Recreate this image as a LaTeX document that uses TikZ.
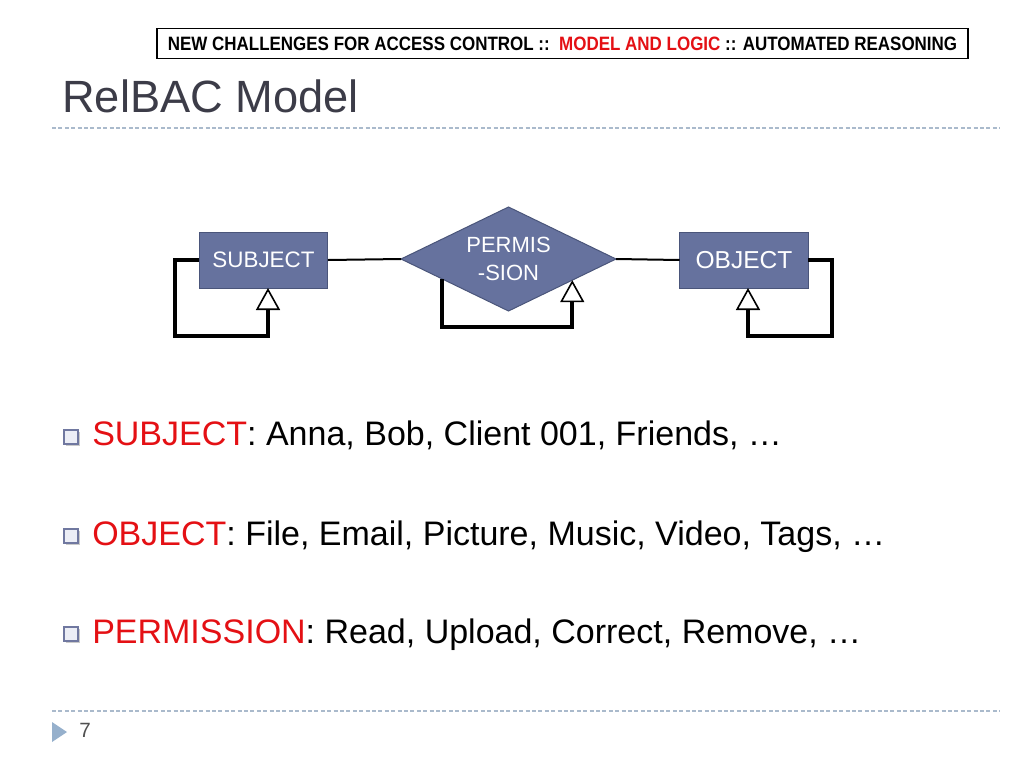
\documentclass[tikz,border=0pt]{standalone}
\usepackage{fontspec}
\setmainfont{Liberation Sans}
\usetikzlibrary{shapes.geometric,arrows.meta,calc,shadows}
\definecolor{boxfill}{RGB}{102,114,158}
\definecolor{boxdraw}{RGB}{74,85,122}
\definecolor{titlegray}{RGB}{60,60,72}
\definecolor{dashcol}{RGB}{170,186,204}
\definecolor{markcol}{RGB}{150,176,204}
\definecolor{hred}{RGB}{228,16,20}
\definecolor{bulletdraw}{RGB}{112,120,160}
\definecolor{bulletfill}{RGB}{236,238,246}
\definecolor{numgray}{RGB}{80,80,80}
\tikzset{
  entity/.style={draw=boxdraw, line width=0.75pt, fill=boxfill, text=white, rectangle,
    minimum width=96.5pt, minimum height=42pt, inner sep=0pt, outer sep=0pt},
  relation/.style={draw=boxdraw, line width=0.75pt, fill=boxfill, text=white, diamond,
    shape aspect=2.07, minimum width=161.25pt, minimum height=78pt, inner sep=0pt, outer sep=0pt,
    align=center, font=\fontsize{16.5}{21}\selectfont},
  conn/.style={line width=1.5pt, black},
  selfloop/.style={line width=3pt, black, line join=miter,
    -{Triangle[open, length=16.5pt, width=18pt, line width=1.2pt]}},
  bulletsq/.style={rectangle, draw=bulletdraw, line width=1.5pt, fill=bulletfill,
    minimum size=10.5pt, inner sep=0pt,
    drop shadow={shadow xshift=1.2pt, shadow yshift=-1.2pt, fill=gray!70, opacity=0.6}},
  itemtext/.style={anchor=base west, inner sep=0pt, font=\fontsize{25.5}{30}\selectfont},
  dashrule/.style={dashcol, line width=0.8pt, dash pattern=on 3pt off 1.8pt},
}
\begin{document}
\begin{tikzpicture}[x=0.75pt,y=-0.75pt]
\useasboundingbox (0,0) rectangle (1024,768);

% header
\node[draw=black, line width=0.8pt, minimum width=608.25pt, minimum height=23pt, inner sep=0pt]
  (hdr) at (562.5,43.5)
  {\resizebox{592pt}{\height}{\fontsize{14.5}{17}\selectfont\bfseries NEW CHALLENGES FOR ACCESS CONTROL ::\ \ \textcolor{hred}{MODEL AND LOGIC} :: AUTOMATED REASONING}};

% title
\node[anchor=base west, inner sep=0pt, text=titlegray, font=\fontsize{33.9}{40}\selectfont]
  (title) at (62,112) {RelBAC Model};
\coordinate (tl1) at (52,128);
\coordinate (tl2) at (1000,128);
\draw[dashrule] (tl1) -- (tl2);

% diagram
\node[entity, font=\fontsize{16.8}{20}\selectfont] (S) at (263.5,260) {SUBJECT};
\node[relation] (P) at (508.5,259) {PERMIS\\-SION};
\node[entity, font=\fontsize{18.4}{22}\selectfont] (O) at (744,260) {OBJECT};

\draw[conn] (S.east) -- (P.west);
\draw[conn] (P.east) -- (O.west);

\coordinate (pa) at ($(P.west)!0.383!(P.south)$);
\coordinate (pb) at ($(P.east)!0.407!(P.south)$);
\coordinate (sa) at ($(S.south)+(4.5,0)$);
\coordinate (oa) at ($(O.south)+(4,0)$);

\draw[selfloop] (S.west) -- ++(-24,0) |- ($(sa)+(0,48)$) -- (sa);
\draw[selfloop] (pa) -- ($(pa)+(0,48.5)$) -| (pb);
\draw[selfloop] (O.east) -- ++(24,0) |- ($(oa)+(0,48)$) -- (oa);

% bullets
\node[bulletsq] (b1) at (71,437) {};
\node[bulletsq] (b2) at (71,536) {};
\node[bulletsq] (b3) at (71,634) {};
\node[itemtext] (t1) at (92,445) {\textcolor{hred}{SUBJECT}: Anna, Bob, Client 001, Friends, …};
\node[itemtext] (t2) at (92,545) {\textcolor{hred}{OBJECT}: File, Email, Picture, Music, Video, Tags, …};
\node[itemtext] (t3) at (92,643) {\textcolor{hred}{PERMISSION}: Read, Upload, Correct, Remove, …};

% footer
\coordinate (bl1) at (52,711);
\coordinate (bl2) at (1000,711);
\draw[dashrule] (bl1) -- (bl2);
\coordinate (m1) at (52,722);
\coordinate (m2) at (52,742);
\coordinate (m3) at (67,732);
\fill[markcol] (m1) -- (m3) -- (m2) -- cycle;
\node[anchor=base west, inner sep=0pt, text=numgray, font=\fontsize{15.5}{18}\selectfont]
  (pg) at (79,737.5) {7};
\end{tikzpicture}
\end{document}
